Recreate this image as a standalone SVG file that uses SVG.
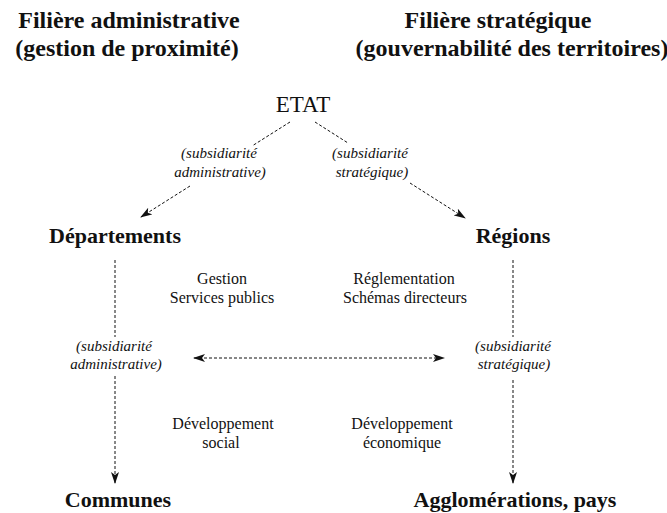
<svg xmlns="http://www.w3.org/2000/svg" width="667" height="513" viewBox="0 0 667 513">
<style>
.t{font-family:"Liberation Serif","Times New Roman",serif;fill:#111;text-anchor:middle}
.title{font-size:24px;font-weight:bold}
.node{font-size:22px;font-weight:bold}
.etat{font-size:23px}
.mid{font-size:16px}
.lab{font-size:15px;font-style:italic}
.c{fill:none;stroke:#111;stroke-width:1;stroke-dasharray:3,2}
</style>
<defs>
<marker id="ah" viewBox="0 0 12 8" refX="11" refY="4" markerWidth="12" markerHeight="8" markerUnits="userSpaceOnUse" orient="auto-start-reverse">
<path d="M0,0 L12,4 L0,8 L3,4 z" fill="#111"/>
</marker>
</defs>
<rect width="667" height="513" fill="#fff"/>
<g id="titles">
<text class="t title" x="129" y="28">Filière administrative</text>
<text class="t title" x="127" y="56">(gestion de proximité)</text>
<text class="t title" x="498" y="28">Filière stratégique</text>
<text class="t title" x="512" y="56">(gouvernabilité des territoires)</text>
</g>
<g id="connectors">
<path class="c" d="M290,122 L252,146 M190,186 L141,217" marker-end="url(#ah)"/>
<path class="c" d="M315,122 L348,143 M410,183 L465,218" marker-end="url(#ah)"/>
<path class="c" d="M115,260 L115,337 M115,376 L115,483" marker-end="url(#ah)"/>
<path class="c" d="M513,260 L513,337 M513,380 L513,483" marker-end="url(#ah)"/>
<path class="c" d="M194,358 L444,358" marker-start="url(#ah)" marker-end="url(#ah)"/>
</g>
<g id="etat"><text class="t etat" x="303" y="112">ETAT</text></g>
<g id="label-admin-top">
<text class="t lab" x="219" y="158">(subsidiarité</text>
<text class="t lab" x="220" y="177">administrative)</text>
</g>
<g id="label-strat-top">
<text class="t lab" x="370" y="158">(subsidiarité</text>
<text class="t lab" x="372" y="177">stratégique)</text>
</g>
<g id="departements"><text class="t node" x="115" y="243">Départements</text></g>
<g id="regions"><text class="t node" x="513" y="243">Régions</text></g>
<g id="gestion">
<text class="t mid" x="222" y="284">Gestion</text>
<text class="t mid" x="222" y="303">Services publics</text>
</g>
<g id="reglementation">
<text class="t mid" x="404" y="284">Réglementation</text>
<text class="t mid" x="405" y="303">Schémas directeurs</text>
</g>
<g id="label-admin">
<text class="t lab" x="114" y="351">(subsidiarité</text>
<text class="t lab" x="116" y="369">administrative)</text>
</g>
<g id="label-strat">
<text class="t lab" x="513" y="351">(subsidiarité</text>
<text class="t lab" x="514" y="369">stratégique)</text>
</g>
<g id="dev-social">
<text class="t mid" x="223" y="429">Développement</text>
<text class="t mid" x="221" y="448">social</text>
</g>
<g id="dev-eco">
<text class="t mid" x="402" y="429">Développement</text>
<text class="t mid" x="402" y="448">économique</text>
</g>
<g id="communes"><text class="t node" x="118" y="507">Communes</text></g>
<g id="agglomerations"><text class="t node" x="515" y="507">Agglomérations, pays</text></g>
</svg>
